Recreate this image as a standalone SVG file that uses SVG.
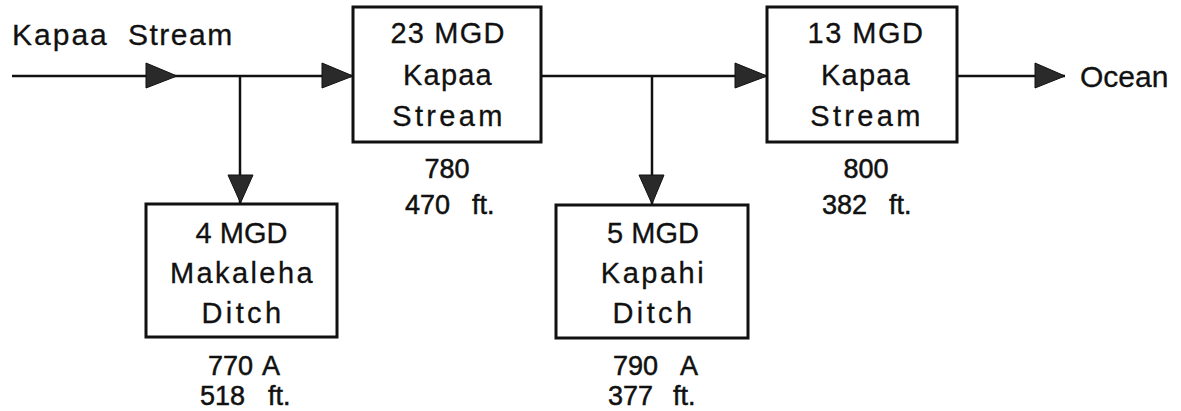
<svg xmlns="http://www.w3.org/2000/svg" width="1181" height="411" viewBox="0 0 1181 411">
<style>
  .box { fill: #fff; stroke: #111; stroke-width: 3; }
  .ln { fill: none; stroke: #111; stroke-width: 2.5; }
  .ah { fill: #2a2a2a; stroke: #111; stroke-width: 1; }
  .t { font-family: "Liberation Sans", Arial, sans-serif; font-size: 29px; fill: #111; stroke: #111; stroke-width: 0.3; text-anchor: middle; }
  .lab { font-family: "Liberation Sans", Arial, sans-serif; font-size: 27px; fill: #111; stroke: #111; stroke-width: 0.5; }
  .big { font-family: "Liberation Sans", Arial, sans-serif; font-size: 30px; fill: #111; stroke: #111; stroke-width: 0.3; }
</style>
<rect width="1181" height="411" fill="#fff"/>

<g id="connectors">
  <path class="ln" d="M12 76 H353"/>
  <polygon class="ah" points="146,63 146,88 177,76"/>
  <polygon class="ah" points="322,63 322,88 353,76"/>
  <path class="ln" d="M240 76 V203"/>
  <polygon class="ah" points="228,175 253,175 240.5,203"/>
  <path class="ln" d="M541 76 H767"/>
  <polygon class="ah" points="735,63 735,88 767,76"/>
  <path class="ln" d="M652 76 V204"/>
  <polygon class="ah" points="639,175 664,175 652,204"/>
  <path class="ln" d="M957 76 H1065"/>
  <polygon class="ah" points="1035,63 1035,88 1065,76"/>
</g>

<g id="source">
  <text class="big" x="12" y="45"><tspan letter-spacing="2">Kapaa</tspan><tspan x="128" letter-spacing="1.5">Stream</tspan></text>
</g>

<g id="ocean">
  <text class="big" x="1080" y="87">Ocean</text>
</g>

<g id="kapaa23">
  <rect class="box" x="353" y="7" width="188" height="135"/>
  <text class="t" x="448" y="43" letter-spacing="1.2">23 MGD</text>
  <text class="t" x="448" y="85" letter-spacing="1.2">Kapaa</text>
  <text class="t" x="449" y="126" letter-spacing="3.3">Stream</text>
  <text class="lab" x="447" y="178" text-anchor="middle">780</text>
  <text class="lab" y="214"><tspan x="405">470</tspan><tspan x="472">ft.</tspan></text>
</g>

<g id="kapaa13">
  <rect class="box" x="767" y="7" width="190" height="135"/>
  <text class="t" x="866" y="43" letter-spacing="1.5">13 MGD</text>
  <text class="t" x="866" y="85" letter-spacing="1.2">Kapaa</text>
  <text class="t" x="867" y="126" letter-spacing="3.3">Stream</text>
  <text class="lab" x="866" y="178" text-anchor="middle">800</text>
  <text class="lab" y="214"><tspan x="822">382</tspan><tspan x="889">ft.</tspan></text>
</g>

<g id="makaleha">
  <rect class="box" x="146" y="204" width="191" height="133"/>
  <text class="t" x="241.5" y="243">4 MGD</text>
  <text class="t" x="242.5" y="283" letter-spacing="2.4">Makaleha</text>
  <text class="t" x="243" y="323" letter-spacing="3.4">Ditch</text>
  <text class="lab" y="375"><tspan x="208">770</tspan><tspan x="262">A</tspan></text>
  <text class="lab" y="405"><tspan x="200">518</tspan><tspan x="268">ft.</tspan></text>
</g>

<g id="kapahi">
  <rect class="box" x="556" y="205" width="192" height="133"/>
  <text class="t" x="653" y="243">5 MGD</text>
  <text class="t" x="653.5" y="283" letter-spacing="2.5">Kapahi</text>
  <text class="t" x="654" y="323" letter-spacing="3.4">Ditch</text>
  <text class="lab" y="375"><tspan x="613">790</tspan><tspan x="680">A</tspan></text>
  <text class="lab" y="405"><tspan x="608">377</tspan><tspan x="673">ft.</tspan></text>
</g>
</svg>
